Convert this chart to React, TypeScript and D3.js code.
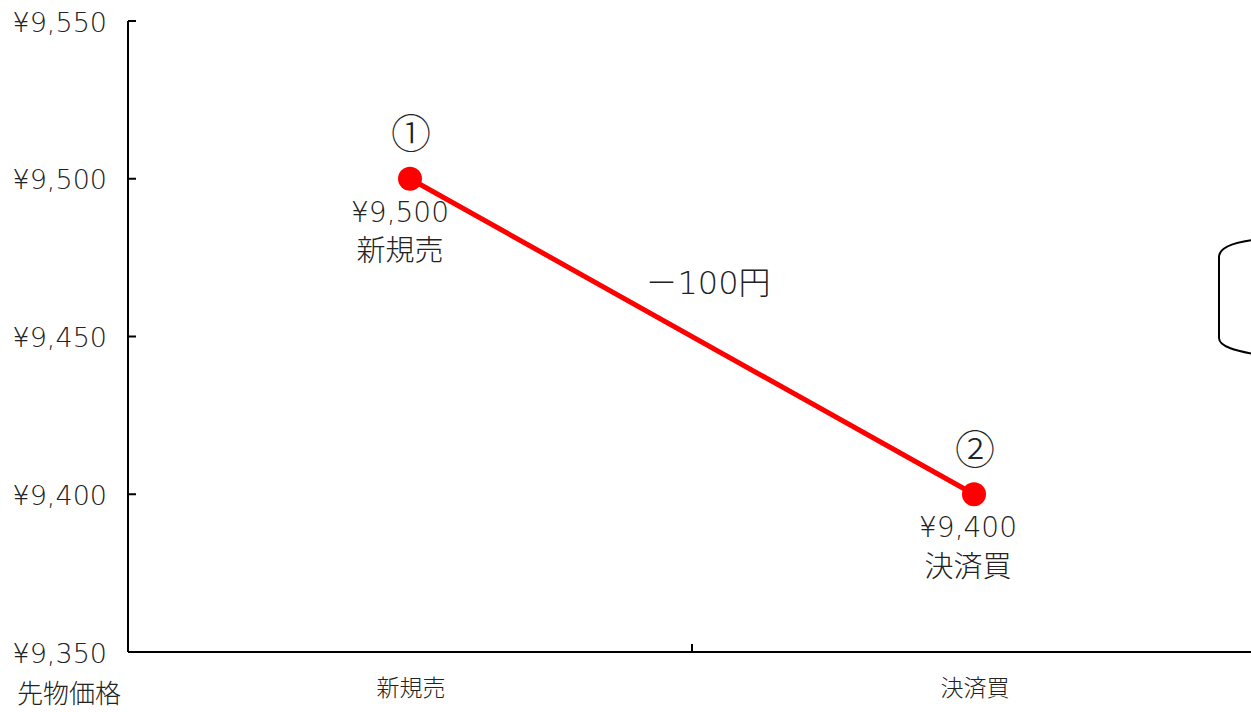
import React from "react";
import * as d3 from "d3";

const categories = ["新規売", "決済買"];
const prices = [9500, 9400];
const markers = ["①", "②"];
const priceLabels = ["¥9,500", "¥9,400"];
const yTicks = [9350, 9400, 9450, 9500, 9550];
const diffLabel = "－100円";
const yTitle = "先物価格";

const W = 1251;
const H = 712;
const LATIN = "'DejaVu Sans', 'Noto Sans CJK JP', sans-serif";
const CJK = "'Noto Sans CJK JP', sans-serif";

export default function App() {
  const left = 128;
  const x = d3.scaleBand<string>().domain(categories).range([left, left + 1128]).padding(0);
  const y = d3.scaleLinear().domain([9350, 9550]).range([652, 21]);
  const fmt = (v: number) => "¥" + d3.format(",")(v);
  const pts = categories.map((c, i) => [x(c)! + x.bandwidth() / 2, y(prices[i])] as [number, number]);
  const line = d3.line();
  const mid = [(pts[0][0] + pts[1][0]) / 2, (pts[0][1] + pts[1][1]) / 2];
  const labelShift = [-10, -6];

  return (
    <svg width={W} height={H} style={{ position: "absolute", left: 0, top: 0, background: "#fff" }}>
      {/* axes */}
      <line x1={left} x2={left} y1={y(9550)} y2={y(9350)} stroke="#000" strokeWidth={2} />
      <line x1={left} x2={W + 10} y1={y(9350)} y2={y(9350)} stroke="#000" strokeWidth={2} />
      {yTicks.map((t) => (
        <g key={t}>
          <line x1={left} x2={left + 8} y1={y(t)} y2={y(t)} stroke="#000" strokeWidth={2} />
          <text x={107} y={y(t) + 1} dy="0.36em" textAnchor="end" fontSize={27} fill="#222" fontWeight={200} fontFamily={LATIN}>
            {fmt(t)}
          </text>
        </g>
      ))}
      {categories.slice(1).map((c) => (
        <line key={c} x1={x(c)!} x2={x(c)!} y1={y(9350)} y2={y(9350) - 8} stroke="#000" strokeWidth={2} />
      ))}
      {categories.map((c) => (
        <text key={c} x={x(c)! + x.bandwidth() / 2 + 1} y={688} dy="0.36em" textAnchor="middle" fontSize={23} fill="#222" fontWeight={300} fontFamily={CJK}>
          {c}
        </text>
      ))}
      <text x={69} y={694} dy="0.36em" textAnchor="middle" fontSize={26} fill="#222" fontWeight={300} fontFamily={CJK}>
        {yTitle}
      </text>

      {/* series */}
      <path d={line(pts)!} stroke="#ff0000" strokeWidth={5} fill="none" />
      {pts.map((p, i) => (
        <g key={i}>
          <circle cx={p[0]} cy={p[1]} r={12} fill="#ff0000" />
          <text x={p[0] + 1} y={p[1] - 45} dy="0.36em" textAnchor="middle" fontSize={40} fill="#222" fontWeight={300} fontFamily={CJK}>
            {markers[i]}
          </text>
          <text x={p[0] + labelShift[i]} y={p[1] + 33} dy="0.36em" textAnchor="middle" fontSize={28} fill="#222" fontWeight={200} fontFamily={LATIN}>
            {priceLabels[i]}
          </text>
          <text x={p[0] + labelShift[i]} y={p[1] + 72} dy="0.36em" textAnchor="middle" fontSize={29} fill="#222" fontWeight={300} fontFamily={CJK}>
            {categories[i]}
          </text>
        </g>
      ))}
      <text x={mid[0] + 16} y={282} dy="0.36em" textAnchor="middle" fontSize={32} fill="#222" fontWeight={300} fontFamily={LATIN}>
        {diffLabel}
      </text>

      {/* cylinder shape at right edge */}
      <path
        d="M1253,240 C1238,242 1219,246 1219,257 L1219,338 C1219,347 1238,351 1253,354"
        fill="none"
        stroke="#000"
        strokeWidth={2}
      />
    </svg>
  );
}
